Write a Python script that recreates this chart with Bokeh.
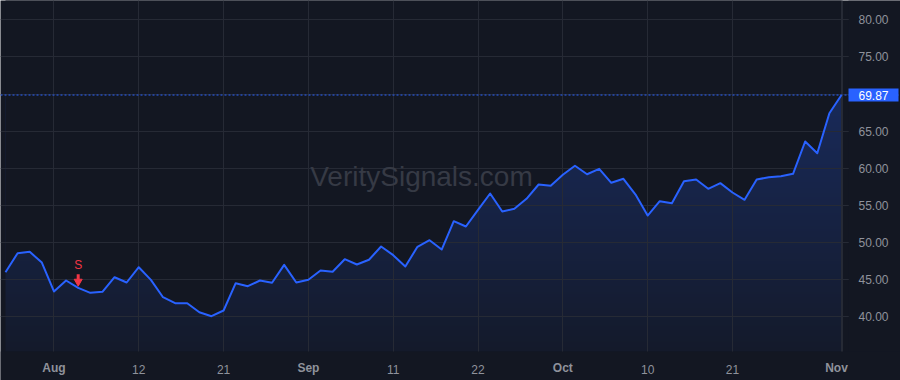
import numpy as np
from bokeh.plotting import figure
from bokeh.models import Range1d, FixedTicker, Span, Label, NumeralTickFormatter, BoxAnnotation
from bokeh.embed import file_html
from bokeh.resources import INLINE

# ---- data -------------------------------------------------------------
values = [46.00, 48.57, 48.75, 47.31, 43.41, 44.89, 43.90, 43.23, 43.37, 45.33,
          44.62, 46.68, 44.98, 42.64, 41.83, 41.83, 40.62, 40.08, 40.85, 44.53,
          44.12, 44.89, 44.58, 47.00, 44.62, 45.00, 46.24, 46.06, 47.76, 47.04,
          47.68, 49.47, 48.30, 46.77, 49.43, 50.32, 49.06, 52.88, 52.16, 54.41,
          56.61, 54.18, 54.55, 55.89, 57.82, 57.64, 59.14, 60.34, 59.20, 59.93,
          58.05, 58.59, 56.47, 53.64, 55.57, 55.30, 58.26, 58.49, 57.24, 58.00,
          56.74, 55.76, 58.49, 58.80, 58.93, 59.26, 63.61, 62.03, 67.42, 69.87]
bar_index = list(range(len(values)))

tick_index = [4, 11, 18, 25, 32, 39, 46, 53, 60, 69]
tick_labels = ["Aug", "12", "21", "Sep", "11", "22", "Oct", "10", "21", "Nov"]
tick_is_month = [True, False, False, True, False, False, True, False, False, True]

price_ticks = [40, 45, 50, 55, 60, 65, 70, 75, 80]

signal_index = [6]
signal_text = ["S"]

watermark = "VeritySignals.com"

# ---- style / layout ---------------------------------------------------
BG = "#131722"
GRID = "#262a35"
BLUE = "#2962ff"
RED = "#f23645"
TXT = "#8f929b"
FONT = "Liberation Sans"

W, H = 900, 380
PANE_W, PANE_H = 842, 351          # price pane inside the canvas
PX_X = 12.116                      # pixels per bar
PX_Y = 7.425                       # pixels per price unit
X0 = -5 / PX_X                     # first bar sits 5px from the left edge
XA = X0 + PANE_W / PX_X            # price-scale border
X1 = X0 + W / PX_X
YT = 82.6
YA = YT - PANE_H / PX_Y            # time-scale border
Y1 = YT - H / PX_Y

p = figure(width=W, height=H, output_backend="svg", toolbar_location=None,
           x_range=Range1d(X0, X1), y_range=Range1d(Y1, YT),
           y_axis_location="right", x_axis_location="below",
           min_border=0, min_border_left=0, min_border_right=0,
           min_border_top=0, min_border_bottom=0,
           background_fill_color=BG, border_fill_color=BG,
           outline_line_color=None)

# gradient area fill (image under a background-coloured mask above the line)
top_val = max(values)
n = 256
alpha = np.linspace(0.04, 0.25, n)[:, None]
bg_rgb = np.array([0x13, 0x17, 0x22], dtype=float)
blue_rgb = np.array([0x29, 0x62, 0xff], dtype=float)
cols = bg_rgb * (1 - alpha) + blue_rgb * alpha
img = np.empty((n, 2), dtype=np.uint32)
view = img.view(dtype=np.uint8).reshape((n, 2, 4))
for c in range(3):
    view[:, :, c] = np.round(cols[:, c])[:, None].astype(np.uint8)
view[:, :, 3] = 255
p.image_rgba(image=[img], x=bar_index[0], y=YA, dw=bar_index[-1] - bar_index[0],
             dh=top_val - YA, level="image")
p.varea(x=bar_index, y1=values, y2=YT + 1, fill_color=BG, level="image")

# watermark
p.add_layout(Label(x=(X0 + XA) / 2, y=(YA + YT) / 2, text=watermark,
                   text_align="center", text_baseline="middle",
                   text_font_size="28px", text_font=FONT, text_color="#363a45",
                   level="underlay"))

# axes
ya = p.yaxis[0]
ya.fixed_location = XA
ya.bounds = (YA, YT)
ya.ticker = FixedTicker(ticks=price_ticks)
ya.formatter = NumeralTickFormatter(format="0.00")
ya.major_label_text_font = FONT
ya.major_label_text_font_size = "12px"
ya.major_label_text_color = TXT
ya.major_tick_out = 6
ya.major_tick_in = 0
ya.major_tick_line_color = GRID
ya.minor_tick_line_color = None
ya.axis_line_color = GRID
ya.major_label_standoff = 10

xa = p.xaxis[0]
xa.fixed_location = YA
xa.ticker = FixedTicker(ticks=tick_index)
xa.major_label_overrides = {t: ("" if m else l) for t, l, m in
                            zip(tick_index, tick_labels, tick_is_month)}
xa.major_label_text_font = FONT
xa.major_label_text_font_size = "12px"
xa.major_label_text_color = TXT
xa.major_tick_line_color = None
xa.minor_tick_line_color = None
xa.axis_line_color = None
xa.major_label_standoff = 7

p.xgrid.grid_line_color = GRID
p.ygrid.grid_line_color = GRID

# keep grid lines inside the price pane
p.add_layout(BoxAnnotation(left=XA + 6 / PX_X, fill_color=BG, fill_alpha=1,
                           line_color=None, level="underlay"))
p.add_layout(BoxAnnotation(top=YA, fill_color=BG, fill_alpha=1,
                           line_color=None, level="underlay"))

# line
p.line(bar_index, values, line_color=BLUE, line_width=2, line_join="round")

# last price dotted line
p.add_layout(Span(location=values[-1], dimension="width", line_color=BLUE,
                  line_width=1, line_dash="2 2"))

# signal marker
sig_y = [values[i] for i in signal_index]
p.segment(x0=signal_index, y0=[v + 13.5 / PX_Y for v in sig_y],
          x1=signal_index, y1=[v + 8.0 / PX_Y for v in sig_y],
          line_color=RED, line_width=3)
p.scatter(x=signal_index, y=[v + 6.3 / PX_Y for v in sig_y], marker="inverted_triangle",
          size=8, fill_color=RED, line_color=RED)
p.text(x=signal_index, y=sig_y, text=signal_text, y_offset=-22.5,
       text_align="center", text_baseline="middle", text_color=RED,
       text_font_size="12px", text_font={"value": FONT})

# bold month labels on the time scale
for t, l, m in zip(tick_index, tick_labels, tick_is_month):
    if m:
        p.add_layout(Label(x=t, y=YA, y_offset=-16,
                           x_offset=(-5 if t == tick_index[-1] else 0),
                           text=l,
                           text_align="center", text_baseline="middle",
                           text_font=FONT, text_font_size="12px",
                           text_font_style="bold", text_color=TXT))

# last price tag
p.add_layout(Label(x=bar_index[-1], y=values[-1], x_offset=7, text=f"{values[-1]:.2f}",
                   text_align="left", text_baseline="middle",
                   text_font=FONT, text_font_size="12px", text_color="white",
                   background_fill_color=BLUE,
                   padding=(10, 10, 2, 2)))

open("out.html", "w").write(file_html(p, INLINE))
